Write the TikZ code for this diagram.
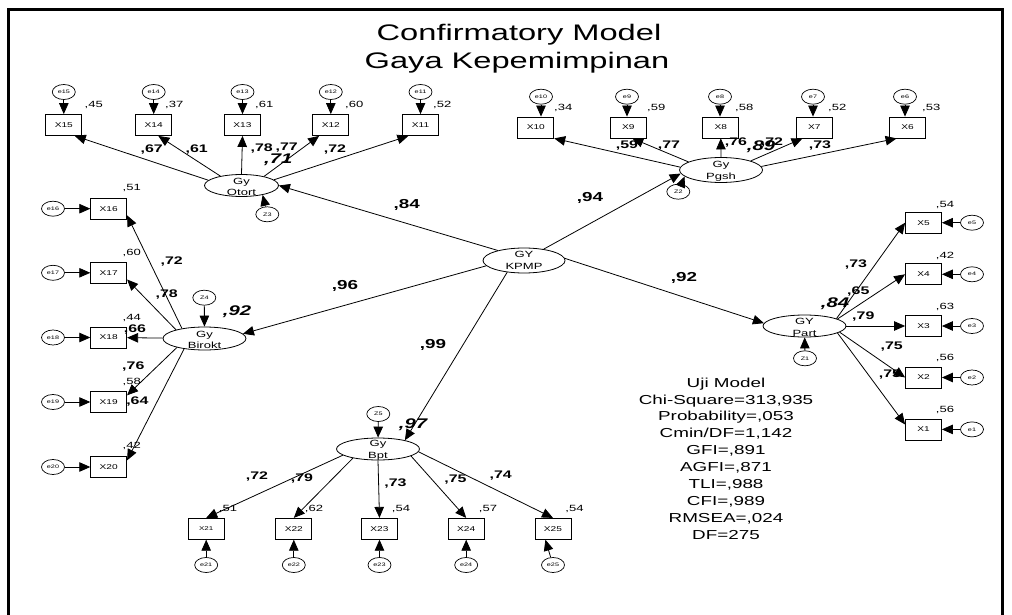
\documentclass[tikz,border=0pt]{standalone}
\usepackage{fontspec}
\setmainfont{Liberation Sans}[FakeStretch=1.45]
\usetikzlibrary{arrows.meta,shapes.geometric}

\tikzset{
  every node/.style={inner sep=0pt},
  title/.style={font=\fontsize{22.5}{24}\selectfont},
  obs/.style={draw, rectangle, line width=0.8pt, minimum width=36pt, minimum height=21pt, font=\fontsize{7}{8}\selectfont},
  lat/.style={draw, ellipse, line width=0.8pt, minimum width=83pt, minimum height=23pt},
  lattext/.style={font=\fontsize{9}{11.5}\selectfont, align=center},
  err/.style={draw, ellipse, line width=0.7pt, minimum width=23pt, minimum height=15pt, font=\fontsize{5}{6}\selectfont},
  rsq/.style={font=\fontsize{9}{10}\selectfont},
  wt/.style={font=\fontsize{11}{12}\selectfont\bfseries},
  bigwt/.style={font=\fontsize{13}{14}\selectfont\bfseries},
  latrsq/.style={font=\fontsize{14}{15}\selectfont\bfseries\itshape},
  stats/.style={font=\fontsize{13}{16.9}\selectfont, align=center},
  arr/.style={-{Triangle[length=11pt,width=9.5pt]}, line width=0.8pt},
}

\begin{document}
\begin{tikzpicture}[x=1pt,y=-1pt]
\useasboundingbox (0,0) rectangle (1012,615);
% frame
\draw[line width=3pt,line join=miter] (8,615) -- (8,9.5) -- (1002,9.5) -- (1002,615);

% title
\node[title] (title1) at (519,35) {Confirmatory Model};
\node[title] (title2) at (517,63) {Gaya Kepemimpinan};

% latent variables
\node[lat,minimum width=74pt,minimum height=22pt,label={[lattext,yshift=-1.5pt]center:Gy\\Otort}] (Otort) at (241.5,185.5) {};
\node[lat,minimum height=25pt,label={[lattext,yshift=-1.5pt]center:Gy\\Pgsh}] (Pgsh) at (721,170) {};
\node[lat,minimum width=82pt,minimum height=25pt,label={[lattext]center:GY\\KPMP}] (KPMP) at (524,260.5) {};
\node[lat,label={[lattext,yshift=-1.5pt]center:Gy\\Birokt}] (Birokt) at (204.5,338.5) {};
\node[lat,minimum height=22pt,label={[lattext,yshift=-1.5pt]center:GY\\Part}] (Part) at (804.5,326) {};
\node[lat,minimum height=22pt,label={[lattext,yshift=-1.5pt]center:Gy\\Bpt}] (Bpt) at (378,449) {};

% disturbances
\node[err] (Z3) at (267.3,214.3) {Z3};
\node[err] (Z2) at (678.3,191.7) {Z2};
\node[err] (Z4) at (204.3,297.7) {Z4};
\node[err] (Z1) at (805,358.3) {Z1};
\node[err] (Z5) at (378.3,414) {Z5};

% indicators of Otort
\foreach \i/\x in {15/63.8,14/153.7,13/242.5,12/330.8,11/420.5} {
  \node[obs] (X\i) at (\x,125) {X\i};
  \node[err] (e\i) at (\x,92) {e\i};
}
% indicators of Pgsh
\foreach \i/\x/\ex in {10/535.8/541,9/628.3/627,8/720.8/720,7/814.2/813,6/907.5/905} {
  \node[obs] (X\i) at (\x,127.5) {X\i};
  \node[err] (e\i) at (\ex,96.7) {e\i};
}
% indicators of Birokt
\foreach \i/\y in {16/208.7,17/272.8,18/337.5,19/402,20/467} {
  \node[obs] (X\i) at (108.7,\y) {X\i};
  \node[err] (e\i) at (53,\y) {e\i};
}
% indicators of Part
\foreach \i/\y in {5/222.7,4/274.3,3/326,2/377.5,1/429.4} {
  \node[obs] (X\i) at (923.5,\y) {X\i};
  \node[err] (e\i) at (972,\y) {e\i};
}
% indicators of Bpt
\node[obs,font=\fontsize{5.5}{6}\selectfont] (X21) at (206.2,528.8) {X21};
\foreach \i/\x in {22/293.8,23/379.5,24/466.2,25/553} {
  \node[obs] (X\i) at (\x,528.8) {X\i};
}
\foreach \i/\x in {21/206.2,22/293.8,23/379.5,24/466.2,25/553} {
  \node[err] (e\i) at (\x,565) {e\i};
}

% squared multiple correlations of indicators
\foreach \n/\x/\v in {r15/84.5/45,r14/165/37,r13/255/61,r12/345/60,r11/433/52} {
  \node[rsq,anchor=west] (\n) at (\x,105) {,\v};
}
\foreach \n/\x/\v in {r10/554/34,r9/647/59,r8/735/58,r7/828/52,r6/922/53} {
  \node[rsq,anchor=west] (\n) at (\x,108) {,\v};
}
\foreach \n/\y/\v in {r16/188.3/51,r17/253.3/60,r18/318.3/44,r19/381.7/58,r20/446/42} {
  \node[rsq] (\n) at (131.7,\y) {,\v};
}
\foreach \n/\y/\v in {r5/205/54,r4/256/42,r3/307/63,r2/358/56,r1/410/56} {
  \node[rsq] (\n) at (945,\y) {,\v};
}
\foreach \n/\x/\v in {r21/228/51,r22/314/62,r23/401/54,r24/488/57,r25/574.5/54} {
  \node[rsq] (\n) at (\x,509) {,\v};
}

% first-order loadings
\node[wt] (w15) at (151.7,149.3) {,67};
\node[wt] (w14) at (196.7,149.3) {,61};
\node[wt] (w13) at (261.7,148.3) {,78};
\node[wt] (w12b) at (286.7,147.3) {,77};
\node[wt] (w12) at (335,149.3) {,72};
\node[wt] (w9) at (627,146) {,59};
\node[wt] (w9b) at (669,146) {,77};
\node[wt] (w8) at (736,143) {,76};
\node[wt] (w7b) at (772,143) {,72};
\node[wt] (w7) at (820,146) {,73};
\node[wt] (w16) at (171.7,261.7) {,72};
\node[wt] (w17) at (166.7,295) {,78};
\node[wt] (w18) at (135,329.3) {,66};
\node[wt] (w19) at (133.3,366.7) {,76};
\node[wt] (w20) at (137.4,402) {,64};
\node[wt] (w5) at (856,265) {,73};
\node[wt] (w4) at (858.3,291.7) {,65};
\node[wt] (w3) at (863.3,316.7) {,79};
\node[wt] (w2) at (891.7,346.7) {,75};
\node[wt] (w1) at (890,375) {,75};
\node[wt] (w21) at (257,476.7) {,72};
\node[wt] (w22) at (302,479) {,79};
\node[wt] (w23) at (395.5,484) {,73};
\node[wt] (w24) at (455.5,480) {,75};
\node[wt] (w25) at (500.7,476) {,74};

% squared multiple correlations of the factors
\node[latrsq] (q1) at (278.3,159.3) {,71};
\node[latrsq] (q2) at (761,147) {,89};
\node[latrsq] (q3) at (237,312) {,92};
\node[latrsq] (q4) at (835,303.3) {,84};
\node[latrsq] (q5) at (413,425) {,97};

% second-order loadings
\node[bigwt] (g1) at (406.7,205) {,84};
\node[bigwt] (g2) at (590,198.3) {,94};
\node[bigwt] (g3) at (345,286) {,96};
\node[bigwt] (g4) at (433,345) {,99};
\node[bigwt] (g5) at (684,277.6) {,92};

% fit statistics
\node[stats] (fit) at (726,458.5) {Uji Model\\Chi-Square=313,935\\Probability=,053\\Cmin/DF=1,142\\GFI=,891\\AGFI=,871\\TLI=,988\\CFI=,989\\RMSEA=,024\\DF=275};

% second-order paths
\draw[arr] (KPMP.159) -- (Otort.east);
\draw[arr] (KPMP.30) -- (Pgsh.185);
\draw[arr] (KPMP.188) -- (Birokt.7);
\draw[arr] (KPMP.3) -- (Part.176);
\draw[arr] (KPMP.215) -- (Bpt.18);

% disturbance paths
\draw[arr] (Z3) -- (Otort.-24);
\draw[arr] (Z2) -- (Pgsh.190);
\draw[arr] (Z4) -- (Birokt);
\draw[arr] (Z1) -- (Part);
\draw[arr] (Z5) -- (Bpt);

% Otort loadings
\draw[arr] (Otort.171) -- (X15.-45);
\draw[arr] (Otort.156) -- (X14.-67);
\draw[arr] (Otort.90) -- (X13.south);
\draw[arr] (Otort.22) -- (X12.-137);
\draw[arr] (Otort.10) -- (X11.-138);

% Pgsh loadings
\draw[arr] (Pgsh.176) -- (X10.south east);
\draw[arr] (Pgsh.166) -- (X9.-70);
\draw[arr] (Pgsh.90) -- (X8.south);
\draw[arr] (Pgsh.17) -- (X7.-137);
\draw[arr] (Pgsh.5) -- (X6.-135);

% Birokt loadings
\draw[arr] (Birokt.156) -- (X16.-20);
\draw[arr] (Birokt.163) -- (X17.-20);
\draw[arr] (Birokt) -- (X18);
\draw[arr] (Birokt.198) -- (X19.20);
\draw[arr] (Birokt.207) -- (X20.20);

% Part loadings
\draw[arr] (Part.13) -- (X5.west);
\draw[arr] (Part.12) -- (X4.west);
\draw[arr] (Part) -- (X3);
\draw[arr] (Part.-10) -- (X2.west);
\draw[arr] (Part.-12) -- (X1.165);

% Bpt loadings
\draw[arr] (Bpt.190) -- (X21.north);
\draw[arr] (Bpt.200) -- (X22.north);
\draw[arr] (Bpt.-90) -- (X23.north);
\draw[arr] (Bpt.-12) -- (X24.north);
\draw[arr] (Bpt.-4) -- (X25.north);

% measurement errors
\foreach \i in {11,...,20,1,2,3,4,5,21,22,23,24} {
  \draw[arr] (e\i) -- (X\i);
}
\foreach \i in {6,...,10} {
  \draw[arr] (e\i) -- (e\i |- X\i.north);
}
\draw[arr] (e25) -- (X25.-125);
\end{tikzpicture}
\end{document}
